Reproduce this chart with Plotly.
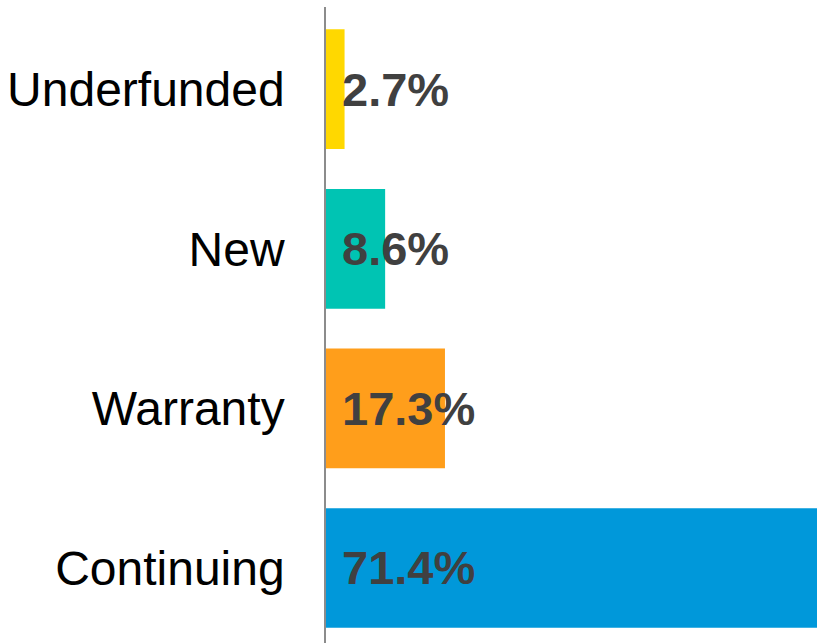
import plotly.graph_objects as go

categories = ["Continuing", "Warranty", "New", "Underfunded"]
values = [71.4, 17.3, 8.6, 2.7]
colors = ["#0098DA", "#FF9E1B", "#00C4B3", "#FFD800"]
labels = [f"{v}%" for v in values]

fig = go.Figure()
fig.add_trace(go.Bar(
    x=values, y=categories, orientation="h",
    marker=dict(color=colors, line=dict(width=0)),
    hoverinfo="skip",
))
for c, lab in zip(categories, labels):
    fig.add_annotation(
        x=0, y=c, xref="x", yref="y", text=f"<b>{lab}</b>",
        showarrow=False, xanchor="left", yanchor="middle", xshift=14,
        font=dict(family="Liberation Sans, Arial, sans-serif", size=47, color="#404040"),
    )

fig.update_layout(
    width=817, height=643,
    margin=dict(l=326, r=0, t=7, b=0),
    paper_bgcolor="white", plot_bgcolor="white",
    bargap=0.25, showlegend=False,
    xaxis=dict(range=[0, 71.4], showgrid=False, zeroline=False, showticklabels=False,
               showline=False, ticks=""),
    yaxis=dict(range=[-0.47, 3.515], showgrid=False, zeroline=False,
               showline=True, linecolor="#8C8C8C", linewidth=1.5,
               ticks="", ticklabelstandoff=30,
               tickfont=dict(family="Liberation Sans, Arial, sans-serif", size=48, color="#000000")),
)
fig.write_html("out.html")
